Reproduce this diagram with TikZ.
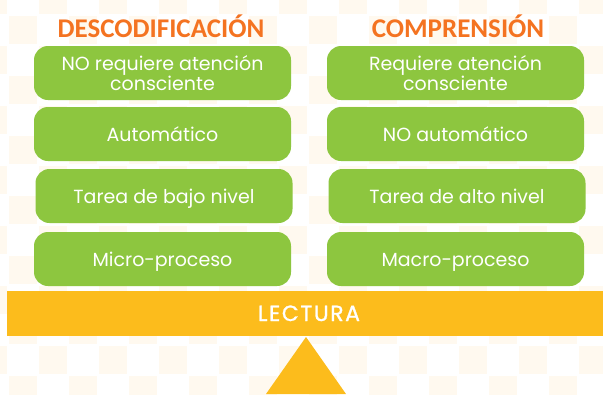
\documentclass[tikz,border=0pt]{standalone}
\usepackage{fontspec}
\setmainfont{Poppins}
\newfontfamily\headfont{Carlito}
\newfontfamily\barfont{Poppins}[FakeBold=1.2, LetterSpace=7]
\definecolor{grn}{HTML}{8DC63F}
\definecolor{ylw}{HTML}{FCBC1C}
\definecolor{org}{HTML}{F47321}
\definecolor{crm}{HTML}{FFF9EF}
\tikzset{
  gbox/.style={rectangle, rounded corners=14pt, fill=grn, text=white,
    minimum width=257pt, minimum height=54pt, inner sep=0pt, align=center,
    font=\fontsize{19}{20}\selectfont},
  oneline/.style={text height=16pt, text depth=1pt},
  head/.style={text=org, inner sep=0pt, font=\headfont\bfseries\fontsize{27}{30}\selectfont},
  bar/.style={rectangle, fill=ylw, text=white, inner sep=0pt,
    minimum width=596pt, minimum height=45pt, text height=16pt, text depth=1pt,
    font=\barfont\fontsize{22}{24}\selectfont}
}
\begin{document}
\begin{tikzpicture}[x=1pt,y=-1pt]
\useasboundingbox (0,0) rectangle (603,394);
\fill[white] (0,0) rectangle (603,394);
% checkerboard background
\begin{scope}
\clip (0,0) rectangle (603,394);
\foreach \c in {-1,...,20}{
  \foreach \r in {-1,...,13}{
    \pgfmathtruncatemacro{\myparity}{mod(\c+\r+100,2)}
    \ifnum\myparity=0
      \fill[crm] ({8+30*\c+1},{15+30*\r+1}) rectangle ({38+30*\c-1},{45+30*\r-1});
    \fi
  }
}
\end{scope}
% headings
\node[head] (hdec) at (161,26) {DESCODIFICACIÓN};
\node[head] (hcom) at (458,26) {COMPRENSIÓN};
% left column
\node[gbox] (l1) at (162.5,73) {NO requiere atención\\consciente};
\node[gbox, oneline] (l2) at (162.5,134) {Automático};
\node[gbox, oneline] (l3) at (164,196) {Tarea de bajo nivel};
\node[gbox, oneline] (l4) at (162.5,259) {Micro-proceso};
% right column
\node[gbox] (r1) at (455.5,73) {Requiere atención\\consciente};
\node[gbox, oneline] (r2) at (455.5,134) {NO automático};
\node[gbox, oneline] (r3) at (457,196) {Tarea de alto nivel};
\node[gbox, oneline] (r4) at (455.5,259) {Macro-proceso};
% bar
\node[bar] (lectura) at (305,313.5) {\hspace*{8pt}LECTURA};
% fulcrum
\fill[ylw] (306,337) -- (346,394) -- (266,394) -- cycle;
\end{tikzpicture}
\end{document}
